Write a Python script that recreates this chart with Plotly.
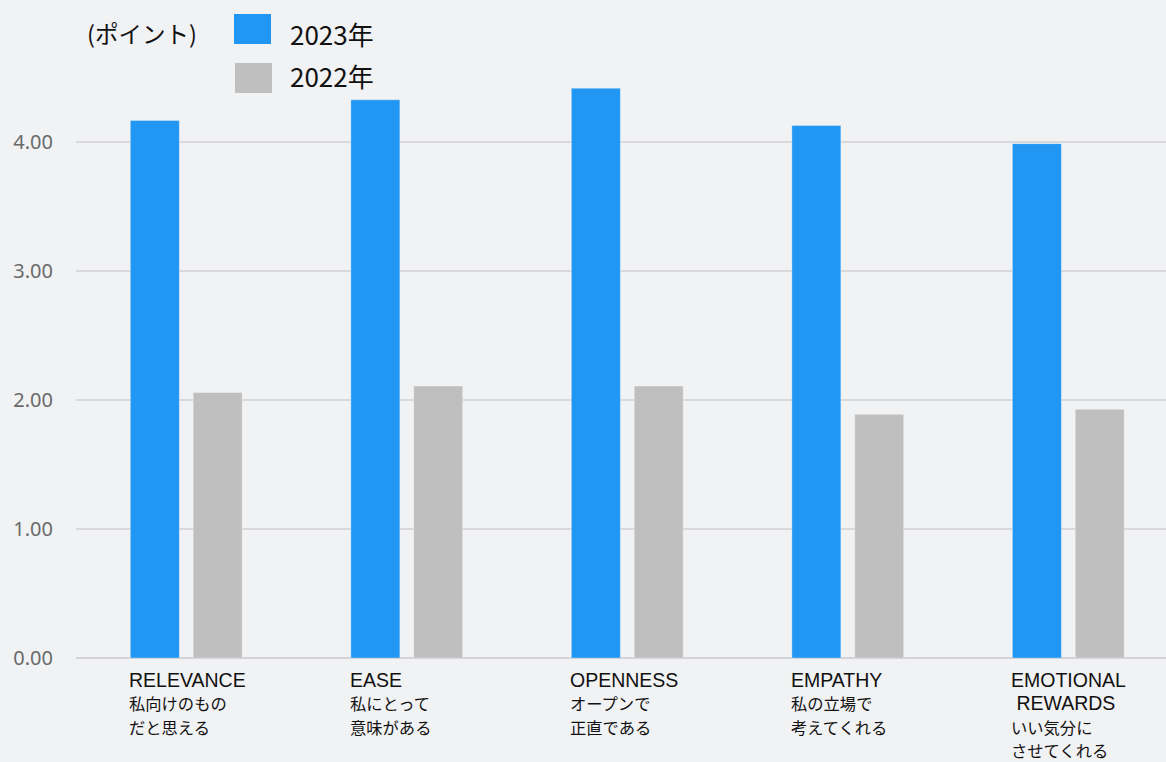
import plotly.graph_objects as go

categories = ["RELEVANCE", "EASE", "OPENNESS", "EMPATHY", "EMOTIONAL REWARDS"]
label_en = [["RELEVANCE"], ["EASE"], ["OPENNESS"], ["EMPATHY"], ["EMOTIONAL", " REWARDS"]]
label_jp = [
    ["私向けのもの", "だと思える"],
    ["私にとって", "意味がある"],
    ["オープンで", "正直である"],
    ["私の立場で", "考えてくれる"],
    ["いい気分に", "させてくれる"],
]
values_2023 = [4.17, 4.33, 4.42, 4.13, 3.99]
values_2022 = [2.06, 2.11, 2.11, 1.89, 1.93]
series_names = ["2023年", "2022年"]
series_colors = ["#2196f3", "#bfbfbf"]
y_ticks = [0, 1, 2, 3, 4]
y_ticklabels = ["0.00", "1.00", "2.00", "3.00", "4.00"]
unit_label = "(ポイント)"

BG = "#f1f2f4"
JP = "Noto Sans CJK JP, Noto Sans, sans-serif"
EN = "Liberation Sans, Arial, sans-serif"

fig = go.Figure()
for name, vals, col in zip(series_names, [values_2023, values_2022], series_colors):
    fig.add_trace(go.Bar(
        x=categories, y=vals, name=name,
        marker=dict(color=col, line=dict(color="rgba(255,255,255,0.35)", width=1)),
        showlegend=False, hoverinfo="y+name",
    ))

fig.update_layout(
    width=1166, height=762,
    paper_bgcolor=BG, plot_bgcolor=BG,
    margin=dict(l=76, r=0, t=65, b=104),
    barmode="group", bargap=0.43, bargroupgap=0.22,
    font=dict(family=JP, color="#222"),
    xaxis=dict(
        type="category", range=[-0.5, 4.443],
        showticklabels=False, showgrid=False, zeroline=False, showline=False,
    ),
    yaxis=dict(
        range=[0, 4.6], tickvals=y_ticks, ticktext=y_ticklabels,
        showgrid=True, gridcolor="#d9d9dc", gridwidth=1.5,
        zeroline=True, zerolinecolor="#d4d4d8", zerolinewidth=1.5,
        tickfont=dict(family="Noto Sans, sans-serif", size=20, color="#6a6a6a"),
        ticklabelstandoff=22, showline=False,
    ),
)

# category labels: one multi-line annotation per category, left aligned
for cat, en_lines, jp_lines in zip(categories, label_en, label_jp):
    parts = [f'<span style="font-family:{EN};font-size:19.5px">{t}</span>' for t in en_lines]
    parts += [f'<span style="font-size:16.3px">{t}</span>' for t in jp_lines]
    fig.add_annotation(
        x=cat, xref="x", y=0, yref="paper", yanchor="top", xanchor="left",
        xshift=-58, yshift=-10, text="<br>".join(parts), showarrow=False,
        align="left", borderpad=0,
        font=dict(family=JP, size=18, color="#111"),
    )

# unit label
fig.add_annotation(
    x=0, xref="paper", y=1, yref="paper", xanchor="left", yanchor="middle",
    xshift=9, yshift=32, text=unit_label, showarrow=False,
    font=dict(family=JP, size=23.5, color="#111"),
)

# legend with large swatches
text_shifts = [32, -10]
for i, (name, col) in enumerate(zip(series_names, series_colors)):
    top = 51 - i * 49
    fig.add_shape(
        type="rect", xref="paper", yref="paper",
        xsizemode="pixel", ysizemode="pixel",
        xanchor=0, yanchor=1,
        x0=158 + i, x1=195 + i, y0=top, y1=top - 30,
        fillcolor=col, line=dict(width=0),
    )
    fig.add_annotation(
        x=0, xref="paper", y=1, yref="paper", xanchor="left", yanchor="middle",
        xshift=212, yshift=text_shifts[i], text=name, showarrow=False,
        font=dict(family=JP, size=26, color="#111"),
    )

fig.write_html("out.html", config={"displayModeBar": False},
               post_script="document.body.style.margin='0';")
